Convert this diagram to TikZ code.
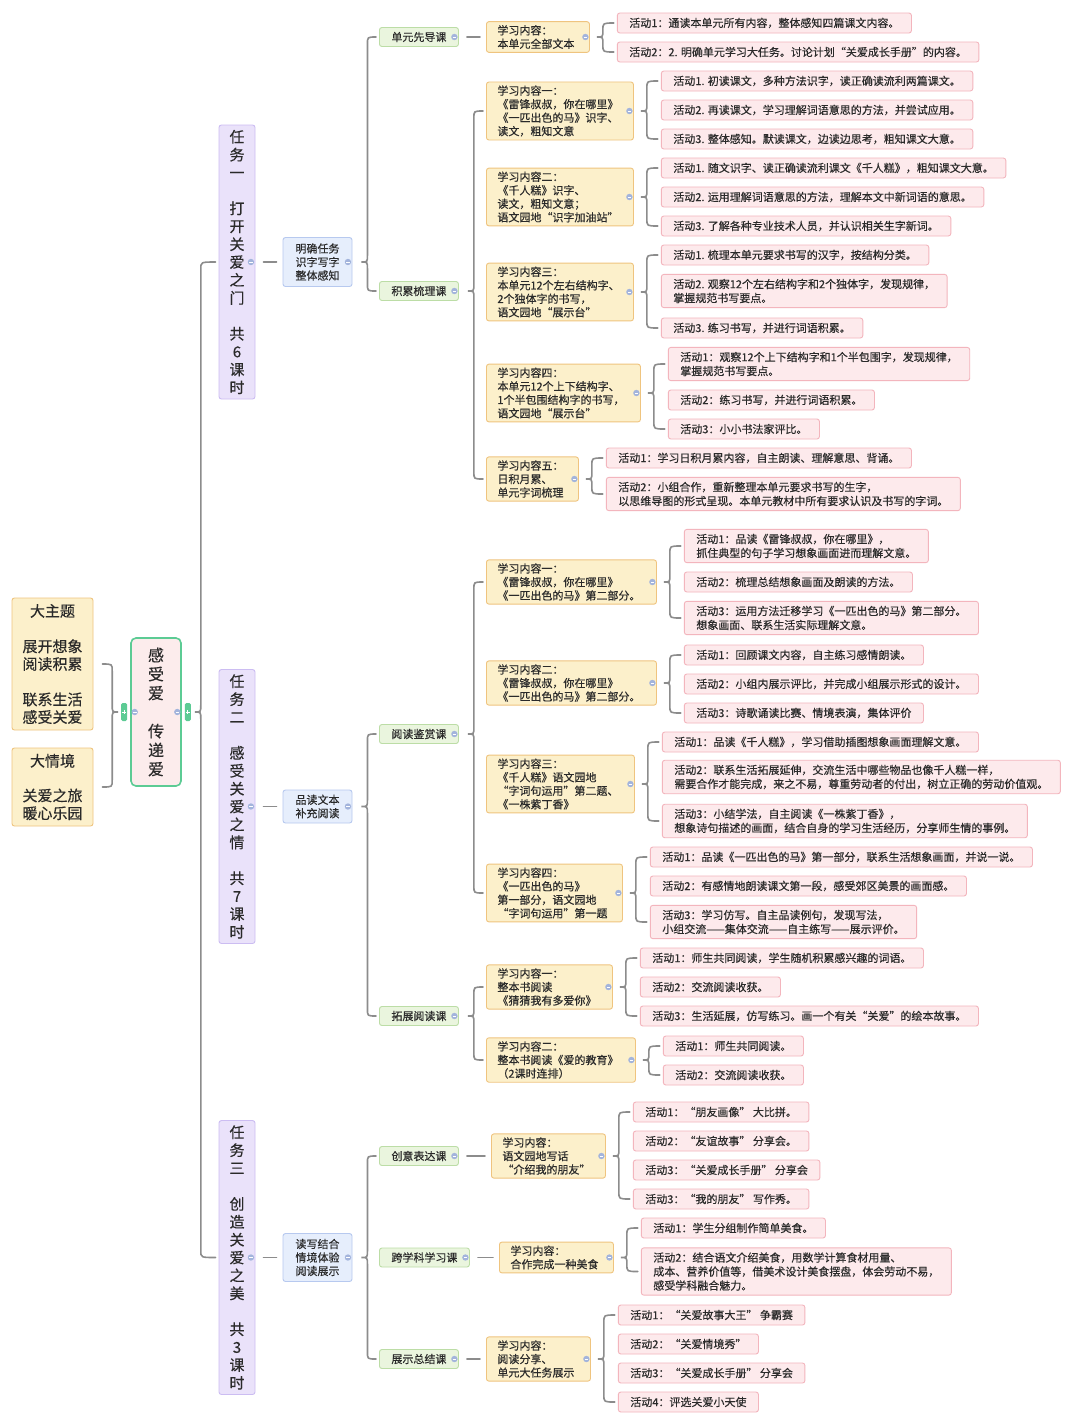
\documentclass[tikz,border=0pt]{standalone}
\usepackage{fontspec}
\setmainfont{Noto Sans CJK SC}[FakeBold=0.4]
\usetikzlibrary{calc}
\definecolor{txt}{HTML}{2A2A2A}
\definecolor{connc}{HTML}{8C8C8C}
\definecolor{actF}{HTML}{FDEAEC}
\definecolor{actB}{HTML}{F3B5BD}
\definecolor{orF}{HTML}{FCF0CB}
\definecolor{orB}{HTML}{EFC47F}
\definecolor{grF}{HTML}{EAF5DE}
\definecolor{grB}{HTML}{BCDDA6}
\definecolor{blF}{HTML}{E6EEFC}
\definecolor{blB}{HTML}{B7C9EF}
\definecolor{puF}{HTML}{EAE2FA}
\definecolor{puB}{HTML}{CCBDF2}
\definecolor{rootF}{HTML}{FCECEC}
\definecolor{rootB}{HTML}{5CCB94}
\definecolor{iconc}{HTML}{A3B4DC}
\newcommand{\mmbrace}[4]{%
\draw[conn] let \p1=(#2.west), \p2=(#3.west), \p3=(#1.east) in
 (\x1-3pt,\y1) .. controls (\x3+#4pt,\y1) .. (\x3+#4pt,\y1-7pt) -- (\x3+#4pt,\y3+7pt)
 .. controls (\x3+#4pt,\y3) .. (\x3+#4pt-6pt,\y3) .. controls (\x3+#4pt,\y3) .. (\x3+#4pt,\y3-7pt)
 -- (\x3+#4pt,\y2+7pt) .. controls (\x3+#4pt,\y2) .. (\x2-3pt,\y2);}
\newcommand{\mmbraceL}[4]{%
\draw[conn] let \p1=(#2.east), \p2=(#3.east), \p3=(#1.west) in
 (\x1+9pt,\y1) .. controls (\x3-#4pt,\y1) .. (\x3-#4pt,\y1-7pt) -- (\x3-#4pt,\y3+7pt)
 .. controls (\x3-#4pt,\y3) .. (\x3-#4pt+6pt,\y3) .. controls (\x3-#4pt,\y3) .. (\x3-#4pt,\y3-7pt)
 -- (\x3-#4pt,\y2+7pt) .. controls (\x3-#4pt,\y2) .. (\x2+9pt,\y2);}
\newcommand{\mmline}[2]{\draw[conn] ([xshift=8pt]#1.east) -- ([xshift=-6pt]#1.east -| #2.west);}
\newcommand{\mmicon}[1]{\fill[iconc] ([xshift=-4.5pt]#1.east) circle (3.2pt);
 \draw[white,line width=0.9pt] ([xshift=-6.3pt]#1.east) -- ([xshift=-2.7pt]#1.east);}
\begin{document}
\begin{tikzpicture}[x=1pt,y=-1pt,
 conn/.style={draw=connc, line width=1.6pt, line cap=round},
 base/.style={rounded corners=2.5pt, line width=0.9pt, text=txt},
 act/.style={base, draw=actB, fill=actF, anchor=west, align=left, font=\fontsize{11}{14}\selectfont, inner xsep=12pt, inner ysep=4.5pt, minimum height=20pt},
 cont/.style={base, draw=orB, fill=orF, anchor=west, align=left, font=\fontsize{11}{13.5}\selectfont, inner xsep=11pt, inner ysep=3.5pt, text width=#1},
 grn/.style={base, draw=grB, fill=grF, anchor=west, font=\fontsize{11}{13.5}\selectfont, inner xsep=12pt, inner ysep=3pt, minimum height=19pt},
 blu/.style={base, draw=blB, fill=blF, align=center, font=\fontsize{11}{13.5}\selectfont, minimum width=69pt, inner ysep=4pt},
 task/.style={base, draw=puB, fill=puF, align=center, font=\fontsize{15}{17.9}\selectfont, minimum width=36pt, minimum height=274pt, inner xsep=2pt},
 theme/.style={base, draw=orB, fill=orF, align=center, font=\fontsize{15}{17.7}\selectfont, minimum width=81pt},
 rootn/.style={rounded corners=5pt, draw=rootB, fill=rootF, line width=1.6pt, text=txt, align=center, font=\fontsize{16}{19}\selectfont, minimum width=50pt, minimum height=148pt}]
\fill[white] (0,0) rectangle (1080,1425);
\useasboundingbox (0,0) rectangle (1080,1425);

% left side
\node[theme, minimum height=132pt] (theme) at (52.5,664) {大主题\\[17.7pt]展开想象\\阅读积累\\[17.7pt]联系生活\\感受关爱};
\node[theme, minimum height=78pt] (scene) at (52.5,787) {大情境\\[17pt]关爱之旅\\暖心乐园};
\node[rootn] (root) at (156,712) {感\\受\\爱\\[19pt]传\\递\\爱};

% tasks
\node[task] (t1) at (237,262) {任\\务\\一\\[17.9pt]打\\开\\关\\爱\\之\\门\\[17.9pt]共\\6\\课\\时};
\node[task] (t2) at (237,806.5) {任\\务\\二\\[17.9pt]感\\受\\关\\爱\\之\\情\\[17.9pt]共\\7\\课\\时};
\node[task] (t3) at (237,1257.5) {任\\务\\三\\[17.9pt]创\\造\\关\\爱\\之\\美\\[17.9pt]共\\3\\课\\时};

% blue
\node[blu, minimum height=49pt] (b1) at (317.5,262) {明确任务\\识字写字\\整体感知};
\node[blu, minimum height=33pt] (b2) at (317.5,806.5) {品读文本\\补充阅读};
\node[blu, minimum height=48pt] (b3) at (317.5,1257.5) {读写结合\\情境体验\\阅读展示};

% green
\node[grn] (g11) at (379,37) {单元先导课};
\node[grn] (g12) at (379,291) {积累梳理课};
\node[grn] (g21) at (379,734) {阅读鉴赏课};
\node[grn] (g22) at (379,1016) {拓展阅读课};
\node[grn] (g31) at (379,1156) {创意表达课};
\node[grn] (g32) at (379,1257.5) {跨学科学习课};
\node[grn] (g33) at (379,1359) {展示总结课};

% orange
\node[cont=81pt] (o11) at (486,37) {学习内容：\\本单元全部文本};
\node[cont=125pt] (o12a) at (486,111) {学习内容一：\\《雷锋叔叔，你在哪里》\\《一匹出色的马》识字、\\读文，粗知文意};
\node[cont=125pt] (o12b) at (486,197) {学习内容二：\\《千人糕》识字、\\读文，粗知文意；\\语文园地“识字加油站”};
\node[cont=125pt] (o12c) at (486,292) {学习内容三：\\本单元12个左右结构字、\\2个独体字的书写，\\语文园地“展示台”};
\node[cont=132pt] (o12d) at (486,393) {学习内容四：\\本单元12个上下结构字、\\1个半包围结构字的书写，\\语文园地“展示台”};
\node[cont=70pt] (o12e) at (486,479) {学习内容五：\\日积月累、\\单元字词梳理};
\node[cont=148pt] (o21a) at (486,582) {学习内容一：\\《雷锋叔叔，你在哪里》\\《一匹出色的马》第二部分。};
\node[cont=148pt] (o21b) at (486,683) {学习内容二：\\《雷锋叔叔，你在哪里》\\《一匹出色的马》第二部分。};
\node[cont=126pt] (o21c) at (486,784) {学习内容三：\\《千人糕》语文园地\\“字词句运用”第二题、\\《一株紫丁香》};
\node[cont=114pt] (o21d) at (486,893) {学习内容四：\\《一匹出色的马》\\第一部分，语文园地\\“字词句运用”第一题};
\node[cont=104pt] (o22a) at (486,987) {学习内容一：\\整本书阅读\\《猜猜我有多爱你》};
\node[cont=127pt] (o22b) at (486,1060) {学习内容二：\\整本书阅读《爱的教育》\\（2课时连排）};
\node[cont=92pt] (o31) at (491,1156) {学习内容：\\语文园地写话\\“介绍我的朋友”};
\node[cont=92pt] (o32) at (499,1257.5) {学习内容：\\合作完成一种美食};
\node[cont=82pt] (o33) at (486,1359) {学习内容：\\阅读分享、\\单元大任务展示};

% activities
\node[act] (o11x1) at ($(o11.east)+(27,-14)$) {活动1：通读本单元所有内容，整体感知四篇课文内容。};
\node[act] (o11x2) at ($(o11.east)+(27,15)$) {活动2：2. 明确单元学习大任务。讨论计划“关爱成长手册”的内容。};

\node[act] (o12ax1) at ($(o12a.east)+(27,-30)$) {活动1. 初读课文，多种方法识字，读正确读流利两篇课文。};
\node[act] (o12ax2) at ($(o12a.east)+(27,-1)$) {活动2. 再读课文，学习理解词语意思的方法，并尝试应用。};
\node[act] (o12ax3) at ($(o12a.east)+(27,28)$) {活动3. 整体感知。默读课文，边读边思考，粗知课文大意。};

\node[act] (o12bx1) at ($(o12b.east)+(27,-29)$) {活动1. 随文识字、读正确读流利课文《千人糕》，粗知课文大意。};
\node[act] (o12bx2) at ($(o12b.east)+(27,0)$) {活动2. 运用理解词语意思的方法，理解本文中新词语的意思。};
\node[act] (o12bx3) at ($(o12b.east)+(27,29)$) {活动3. 了解各种专业技术人员，并认识相关生字新词。};

\node[act] (o12cx1) at ($(o12c.east)+(27,-37)$) {活动1. 梳理本单元要求书写的汉字，按结构分类。};
\node[act] (o12cx2) at ($(o12c.east)+(27,-1)$) {活动2. 观察12个左右结构字和2个独体字，发现规律，\\掌握规范书写要点。};
\node[act] (o12cx3) at ($(o12c.east)+(27,36)$) {活动3. 练习书写，并进行词语积累。};

\node[act] (o12dx1) at ($(o12d.east)+(27,-29)$) {活动1：观察12个上下结构字和1个半包围字，发现规律，\\掌握规范书写要点。};
\node[act] (o12dx2) at ($(o12d.east)+(27,7)$) {活动2：练习书写，并进行词语积累。};
\node[act] (o12dx3) at ($(o12d.east)+(27,36)$) {活动3：小小书法家评比。};

\node[act] (o12ex1) at ($(o12e.east)+(27,-21)$) {活动1：学习日积月累内容，自主朗读、理解意思、背诵。};
\node[act] (o12ex2) at ($(o12e.east)+(27,15)$) {活动2：小组合作，重新整理本单元要求书写的生字，\\以思维导图的形式呈现。本单元教材中所有要求认识及书写的字词。};

\node[act] (o21ax1) at ($(o21a.east)+(27,-36)$) {活动1：品读《雷锋叔叔，你在哪里》，\\抓住典型的句子学习想象画面进而理解文意。};
\node[act] (o21ax2) at ($(o21a.east)+(27,0)$) {活动2：梳理总结想象画面及朗读的方法。};
\node[act] (o21ax3) at ($(o21a.east)+(27,36)$) {活动3：运用方法迁移学习《一匹出色的马》第二部分。\\想象画面、联系生活实际理解文意。};

\node[act] (o21bx1) at ($(o21b.east)+(27,-28)$) {活动1：回顾课文内容，自主练习感情朗读。};
\node[act] (o21bx2) at ($(o21b.east)+(27,1)$) {活动2：小组内展示评比，并完成小组展示形式的设计。};
\node[act] (o21bx3) at ($(o21b.east)+(27,30)$) {活动3：诗歌诵读比赛、情境表演，集体评价};

\node[act] (o21cx1) at ($(o21c.east)+(27,-42)$) {活动1：品读《千人糕》，学习借助插图想象画面理解文意。};
\node[act] (o21cx2) at ($(o21c.east)+(27,-7)$) {活动2：联系生活拓展延伸，交流生活中哪些物品也像千人糕一样，\\需要合作才能完成，来之不易，尊重劳动者的付出，树立正确的劳动价值观。};
\node[act] (o21cx3) at ($(o21c.east)+(27,37)$) {活动3：小结学法，自主阅读《一株紫丁香》，\\想象诗句描述的画面，结合自身的学习生活经历，分享师生情的事例。};

\node[act] (o21dx1) at ($(o21d.east)+(27,-36)$) {活动1：品读《一匹出色的马》第一部分，联系生活想象画面，并说一说。};
\node[act] (o21dx2) at ($(o21d.east)+(27,-7)$) {活动2：有感情地朗读课文第一段，感受郊区美景的画面感。};
\node[act] (o21dx3) at ($(o21d.east)+(27,29)$) {活动3：学习仿写。自主品读例句，发现写法，\\小组交流——集体交流——自主练写——展示评价。};

\node[act] (o22ax1) at ($(o22a.east)+(27,-29)$) {活动1：师生共同阅读，学生随机积累感兴趣的词语。};
\node[act] (o22ax2) at ($(o22a.east)+(27,0)$) {活动2：交流阅读收获。};
\node[act] (o22ax3) at ($(o22a.east)+(27,29)$) {活动3：生活延展，仿写练习。画一个有关“关爱”的绘本故事。};

\node[act] (o22bx1) at ($(o22b.east)+(27,-14)$) {活动1：师生共同阅读。};
\node[act] (o22bx2) at ($(o22b.east)+(27,15)$) {活动2：交流阅读收获。};

\node[act] (o31x1) at ($(o31.east)+(27,-44)$) {活动1：“朋友画像” 大比拼。};
\node[act] (o31x2) at ($(o31.east)+(27,-15)$) {活动2：“友谊故事” 分享会。};
\node[act] (o31x3) at ($(o31.east)+(27,14)$) {活动3：“关爱成长手册” 分享会};
\node[act] (o31x4) at ($(o31.east)+(27,43)$) {活动3：“我的朋友” 写作秀。};

\node[act] (o32x1) at ($(o32.east)+(27,-29.5)$) {活动1：学生分组制作简单美食。};
\node[act] (o32x2) at ($(o32.east)+(27,14)$) {活动2：结合语文介绍美食，用数学计算食材用量、\\成本、营养价值等，借美术设计美食摆盘，体会劳动不易，\\感受学科融合魅力。};

\node[act] (o33x1) at ($(o33.east)+(27,-44)$) {活动1：“关爱故事大王” 争霸赛};
\node[act] (o33x2) at ($(o33.east)+(27,-15)$) {活动2：“关爱情境秀”};
\node[act] (o33x3) at ($(o33.east)+(27,14)$) {活动3：“关爱成长手册” 分享会};
\node[act] (o33x4) at ($(o33.east)+(27,43)$) {活动4：评选关爱小天使};

% connectors
\mmbraceL{root}{theme}{scene}{18}
\mmbrace{root}{t1}{t3}{19}
\mmline{t1}{b1}
\mmline{t2}{b2}
\mmline{t3}{b3}
\mmbrace{b1}{g11}{g12}{15}
\mmbrace{b2}{g21}{g22}{15}
\mmbrace{b3}{g31}{g33}{15}
\mmline{g11}{o11}
\mmbrace{g12}{o12a}{o12e}{15}
\mmbrace{g21}{o21a}{o21d}{15}
\mmbrace{g22}{o22a}{o22b}{15}
\mmline{g31}{o31}
\mmline{g32}{o32}
\mmline{g33}{o33}
\mmbrace{o11}{o11x1}{o11x2}{13}
\mmbrace{o12a}{o12ax1}{o12ax3}{13}
\mmbrace{o12b}{o12bx1}{o12bx3}{13}
\mmbrace{o12c}{o12cx1}{o12cx3}{13}
\mmbrace{o12d}{o12dx1}{o12dx3}{13}
\mmbrace{o12e}{o12ex1}{o12ex2}{13}
\mmbrace{o21a}{o21ax1}{o21ax3}{13}
\mmbrace{o21b}{o21bx1}{o21bx3}{13}
\mmbrace{o21c}{o21cx1}{o21cx3}{13}
\mmbrace{o21d}{o21dx1}{o21dx3}{13}
\mmbrace{o22a}{o22ax1}{o22ax3}{13}
\mmbrace{o22b}{o22bx1}{o22bx2}{13}
\mmbrace{o31}{o31x1}{o31x4}{13}
\mmbrace{o32}{o32x1}{o32x2}{13}
\mmbrace{o33}{o33x1}{o33x4}{13}

% collapse icons
\foreach \n in {t1,t2,t3,b1,b2,b3,g11,g12,g21,g22,g31,g32,g33,o11,o12a,o12b,o12c,o12d,o12e,o21a,o21b,o21c,o21d,o22a,o22b,o31,o32,o33}{\mmicon{\n}}
% root markers
\fill[rootB, rounded corners=1.5pt] ([xshift=-9pt,yshift=-9pt]root.west) rectangle ([xshift=-3pt,yshift=9pt]root.west);
\draw[white, line width=0.7pt] ([xshift=-7.8pt]root.west) -- ([xshift=-4.2pt]root.west) ([xshift=-6pt,yshift=-1.8pt]root.west) -- ([xshift=-6pt,yshift=1.8pt]root.west);
\fill[rootB, rounded corners=1.5pt] ([xshift=3pt,yshift=-9pt]root.east) rectangle ([xshift=9pt,yshift=9pt]root.east);
\draw[white, line width=0.7pt] ([xshift=4.2pt]root.east) -- ([xshift=7.8pt]root.east) ([xshift=6pt,yshift=-1.8pt]root.east) -- ([xshift=6pt,yshift=1.8pt]root.east);
\fill[iconc] ([xshift=4.5pt]root.west) circle (3.2pt);
\draw[white,line width=0.9pt] ([xshift=2.7pt]root.west) -- ([xshift=6.3pt]root.west);
\mmicon{root}
\end{tikzpicture}
\end{document}
